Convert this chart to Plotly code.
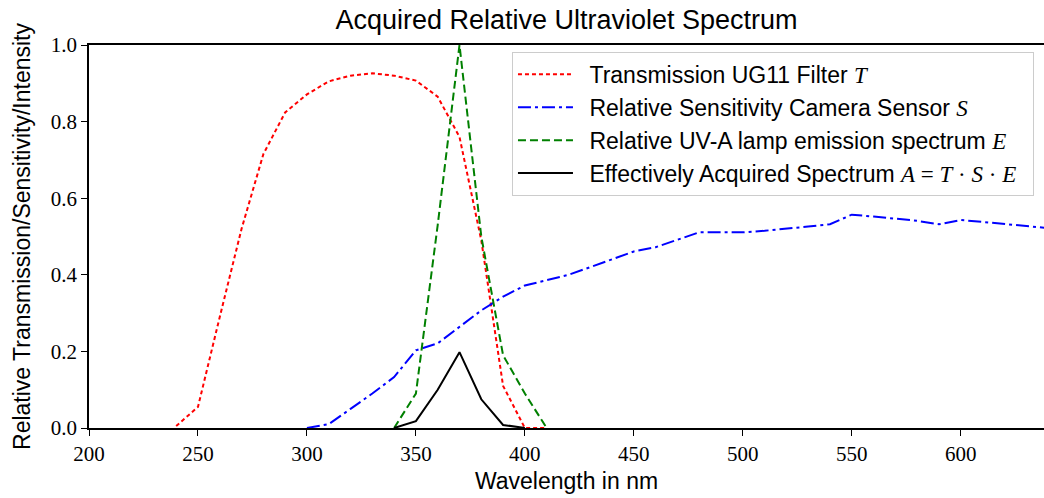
import plotly.graph_objects as go

# Transmission UG11 filter T
t_wl = [240, 250, 260, 270, 280, 290, 300, 310, 320, 330, 340, 350, 360, 370, 380, 390, 400, 410]
t_val = [0.005, 0.055, 0.29, 0.52, 0.715, 0.824, 0.871, 0.905, 0.92, 0.926, 0.92, 0.907, 0.865, 0.76, 0.49, 0.11, 0.0, 0.0]

# Relative sensitivity camera sensor S
s_wl = [300, 310, 320, 330, 340, 350, 360, 370, 380, 390, 400, 410, 420, 430, 440, 450, 460, 470, 480,
        490, 500, 510, 520, 530, 540, 550, 560, 570, 580, 590, 600, 610, 620, 630, 640]
s_val = [0.0, 0.01, 0.05, 0.09, 0.133, 0.203, 0.221, 0.265, 0.307, 0.343, 0.372, 0.386, 0.4, 0.42, 0.44,
         0.461, 0.472, 0.492, 0.511, 0.511, 0.511, 0.515, 0.52, 0.526, 0.532, 0.557, 0.552, 0.547, 0.541,
         0.532, 0.543, 0.538, 0.533, 0.528, 0.522]

# Relative UV-A lamp emission spectrum E
e_wl = [340, 350, 360, 370, 380, 390, 400, 410]
e_val = [0.0, 0.09, 0.53, 1.0, 0.5, 0.19, 0.09, 0.0]

# Effectively acquired spectrum A = T*S*E
a_wl = [340, 350, 360, 370, 380, 390, 400]
a_val = [0.0, 0.018, 0.1, 0.198, 0.075, 0.008, 0.0]

x_ticks = [200, 250, 300, 350, 400, 450, 500, 550, 600]
y_ticks = [0.0, 0.2, 0.4, 0.6, 0.8, 1.0]

SERIF = "Liberation Serif"
SANS = "Liberation Sans, Arial, sans-serif"
PAD = "\u2002"


def m(s):
    return '<span style="font-family:Liberation Serif"><i>' + s + '</i></span>'


def sr(s):
    return '<span style="font-family:Liberation Serif">' + s + '</span>'


fig = go.Figure()
fig.add_trace(go.Scatter(x=t_wl, y=t_val, mode="lines",
                         line=dict(color="#ff0000", width=2, dash="4px,3px"),
                         name=PAD + "Transmission UG11 Filter " + m("T") + PAD))
fig.add_trace(go.Scatter(x=s_wl, y=s_val, mode="lines",
                         line=dict(color="#0000ff", width=2, dash="13px,4px,3px,4px"),
                         name=PAD + "Relative Sensitivity Camera Sensor " + m("S") + PAD))
fig.add_trace(go.Scatter(x=e_wl, y=e_val, mode="lines",
                         line=dict(color="#008000", width=2, dash="8px,4px"),
                         name=PAD + "Relative UV-A lamp emission spectrum " + m("E") + PAD))
fig.add_trace(go.Scatter(x=a_wl, y=a_val, mode="lines",
                         line=dict(color="#000000", width=2),
                         name=PAD + "Effectively Acquired Spectrum " + m("A") + sr(" = ") + m("T") + sr(" · ")
                         + m("S") + sr(" · ") + m("E") + PAD))

fig.update_layout(
    width=1044, height=498,
    margin=dict(l=89, r=0, t=45, b=70),
    paper_bgcolor="white", plot_bgcolor="white",
    title=dict(text="Acquired Relative Ultraviolet Spectrum", x=0.5, xref="paper",
               y=0.96, yref="container", yanchor="middle",
               font=dict(family=SANS, size=27, color="black")),
    showlegend=True,
    legend=dict(x=0.9895, y=0.982, xanchor="right", yanchor="top",
                bgcolor="rgba(255,255,255,0.85)", bordercolor="#cccccc", borderwidth=1,
                font=dict(family=SANS, size=23, color="black"),
                itemwidth=55, tracegroupgap=0),
    font=dict(family=SANS, color="black"),
)

fig.update_xaxes(range=[200, 638.2], tickvals=x_ticks, ticktext=[str(v) for v in x_ticks],
                 showgrid=False, zeroline=False, showline=True, linecolor="black", linewidth=1.5,
                 mirror=True, ticks="outside", ticklen=6, tickwidth=1.2, tickcolor="black",
                 tickfont=dict(family=SERIF, size=21, color="black"),
                 title=dict(text="Wavelength in nm", font=dict(family=SANS, size=23, color="black"), standoff=8))
fig.update_yaxes(range=[0, 1.0], tickvals=y_ticks, ticktext=["%.1f" % v for v in y_ticks],
                 showgrid=False, zeroline=False, showline=True, linecolor="black", linewidth=1.5,
                 ticks="outside", ticklen=6, tickwidth=1.2, tickcolor="black",
                 tickfont=dict(family=SERIF, size=21, color="black"),
                 title=dict(text="Relative Transmission/Sensitivity/Intensity",
                            font=dict(family=SANS, size=23, color="black"), standoff=14))

fig.write_html("out.html")
